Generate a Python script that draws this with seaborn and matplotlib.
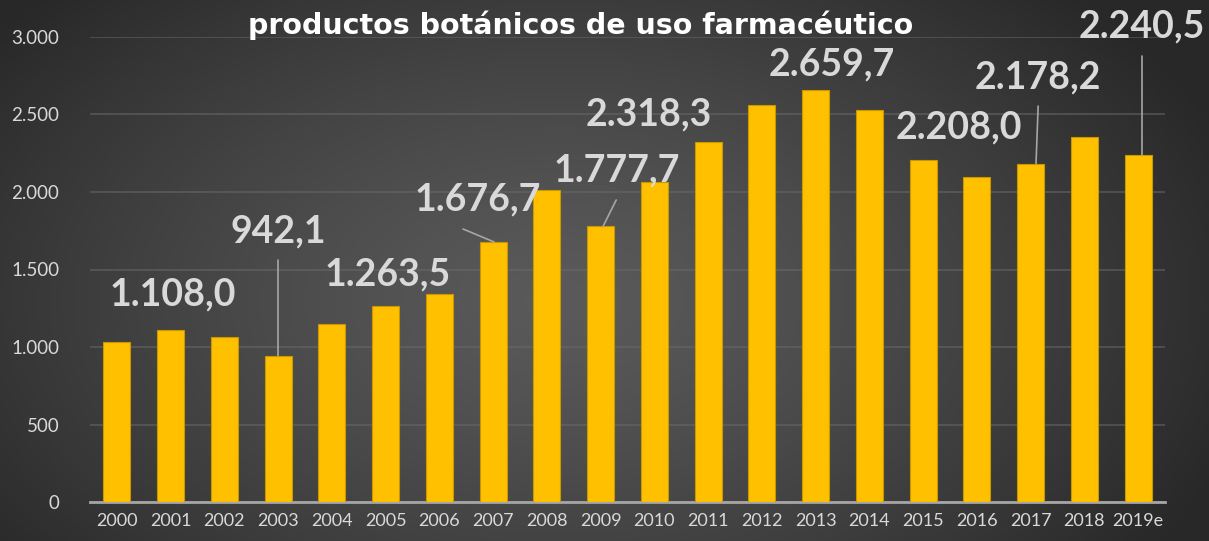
import numpy as np
import pandas as pd
import matplotlib
matplotlib.use("Agg")
import matplotlib.pyplot as plt
import seaborn as sns

# ---- data ----
years = ["2000", "2001", "2002", "2003", "2004", "2005", "2006", "2007", "2008", "2009",
         "2010", "2011", "2012", "2013", "2014", "2015", "2016", "2017", "2018", "2019e"]
values = [1030, 1108.0, 1065, 942.1, 1151, 1263.5, 1340, 1676.7, 2010, 1777.7,
          2062, 2318.3, 2560, 2659.7, 2526, 2208.0, 2096, 2178.2, 2354, 2240.5]
labeled_years = ["2001", "2003", "2005", "2007", "2009", "2011", "2013", "2015", "2017", "2019e"]
y_ticks = [0, 500, 1000, 1500, 2000, 2500, 3000]
title_text = "productos botánicos de uso farmacéutico"

# ---- layout for labels (text position, optional leader line start/end) ----
label_layout = {
    "2001": dict(xy=(1.04, 1337), line=None),
    "2003": dict(xy=(3.0, 1742), line=((3.0, 1561), (3.0, 942))),
    "2005": dict(xy=(5.03, 1465), line=None),
    "2007": dict(xy=(6.72, 1948), line=((6.44, 1761), (7.02, 1677))),
    "2009": dict(xy=(9.3, 2141), line=((9.29, 1948), (9.04, 1774))),
    "2011": dict(xy=(9.9, 2496), line=None),
    "2013": dict(xy=(13.3, 2818), line=None),
    "2015": dict(xy=(15.67, 2412), line=None),
    "2017": dict(xy=(17.14, 2734), line=((17.14, 2553), (17.1, 2180))),
    "2019e": dict(xy=(19.07, 3063), line=((19.07, 2875), (19.07, 2237))),
}

def fmt_es(v, dec=1):
    s = f"{v:,.{dec}f}"
    return s.replace(",", "X").replace(".", ",").replace("X", ".")

df = pd.DataFrame({"year": years, "value": values})

sns.set_theme(style="white")
plt.rcParams["font.family"] = ["Lato", "DejaVu Sans"]

W, H = 1209, 541
fig = plt.figure(figsize=(W / 100, H / 100), dpi=100)

# radial gradient background
bg = fig.add_axes([0, 0, 1, 1], zorder=-10)
yy, xx = np.mgrid[0:H, 0:W]
cx, cy = 560, 300
r = np.sqrt(((xx - cx) / 720.0) ** 2 + ((yy - cy) / 440.0) ** 2)
r = np.clip(r, 0, 1)
c_in, c_out = 0x5a / 255, 0x28 / 255
g = c_in + (c_out - c_in) * r ** 1.3
img = np.dstack([g, g, g])
bg.imshow(img, aspect="auto", extent=[0, 1, 0, 1], origin="upper")
bg.axis("off")

ax = fig.add_axes([90 / W, (H - 502.3) / H, (1165 - 90) / W, (502.3 - 36.7) / H])
ax.set_facecolor("none")

sns.barplot(data=df, x="year", y="value", color="#FFC000", saturation=1,
            width=0.5, edgecolor="#C99700", linewidth=0.8, ax=ax, zorder=3)

ax.set_xlim(-0.5, len(years) - 0.5)
ax.set_ylim(0, 3000)
ax.set_yticks(y_ticks)
ax.set_yticklabels([fmt_es(t, 0) for t in y_ticks])
ax.set_xlabel("")
ax.set_ylabel("")
ax.grid(axis="y", color="#6a6a6a", linewidth=1.2, alpha=0.6, zorder=0)
ax.grid(axis="x", visible=False)
for s in ["left", "right", "top"]:
    ax.spines[s].set_visible(False)
ax.spines["bottom"].set_color("#a6a6a6")
ax.spines["bottom"].set_linewidth(2)
ax.tick_params(axis="both", length=0, colors="#d9d9d9", labelsize=13)
ax.tick_params(axis="y", labelsize=13.5, pad=22)
ax.tick_params(axis="x", pad=8)

for yr in labeled_years:
    i = years.index(yr)
    lay = label_layout[yr]
    ax.text(lay["xy"][0], lay["xy"][1], fmt_es(values[i]), ha="center", va="center",
            fontsize=27, fontweight="bold", color="#d9d9d9", zorder=5, clip_on=False)
    if lay["line"] is not None:
        (x0, y0), (x1, y1) = lay["line"]
        ax.plot([x0, x1], [y0, y1], color="#a6a6a6", linewidth=1.2, zorder=4, clip_on=False)

fig.text(581 / W, (H - 25) / H, title_text, ha="center", va="center",
         fontsize=20.5, fontweight="bold", color="white", family=["DejaVu Sans"])

fig.savefig("out.png", dpi=100)
